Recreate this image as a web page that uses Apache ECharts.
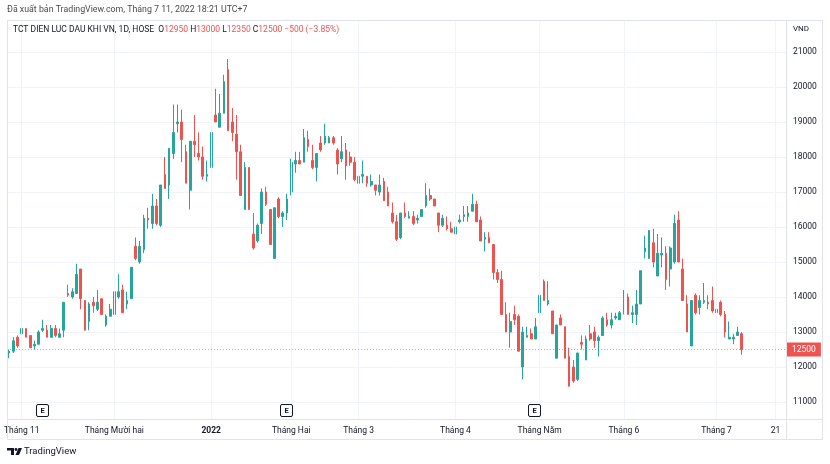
<!DOCTYPE html>
<html>
<head>
    <meta charset="UTF-8">
    <title>TCT DIEN LUC DAU KHI VN, 1D, HOSE</title>
    <script type="text/javascript" src="https://cdn.jsdelivr.net/npm/echarts@6/dist/echarts.min.js"></script>
</head>
<body style="margin: 0;padding: 0;background: #fff;">
    <div id="container" style="width:830px; height:464px;"></div>
    <script>
        // gia (VND) doc tu hinh, moi phien mot nen
        var opens = [
            12400, 12450, 12850, 12950, 13100, 12900, 12600, 12650, 13050, 13050,
            12850, 13100, 12850, 13050, 14100, 14000, 14100, 14800, 13900, 13300,
            13850, 13650, 13950, 13200, 13450, 13500, 14000, 14200, 13800, 13950,
            15450, 15000, 15350, 16250, 16100, 16600, 16050, 17500, 17200, 18100,
            18950, 19000, 18150, 17050, 18450, 18100, 18000, 17450, 17700, 19200,
            18850, 19250, 20500, 19000, 18650, 18150, 16500, 17700, 15800, 15600,
            16100, 17000, 16500, 15100, 16800, 16300, 16400, 17000, 17800, 17900,
            17850, 18500, 17900, 17700, 18400, 18400, 18400, 18550, 18200, 17950,
            18200, 18000, 17850, 17250, 17450, 17450, 17200, 17200, 17000, 17300,
            17000, 16400, 16150, 15700, 16400, 16250, 16300, 16200, 16300, 16600,
            16900, 16800, 16400, 16050, 16050, 15950, 15800, 16150, 16300, 16300,
            16450, 16650, 16200, 15650, 15700, 15500, 14700, 14500, 13500, 13000,
            13500, 13450, 12000, 12850, 12950, 12800, 13550, 14450, 13800, 13600,
            12250, 13400, 13150, 12300, 12000, 11650, 12700, 12200, 12950, 13000,
            12750, 12900, 13350, 13200, 13400, 13350, 13550, 14000, 13500, 13500,
            13800, 15300, 15100, 15550, 14600, 15200, 15250, 14800, 15000, 16200,
            14800, 13800, 12600, 14050, 13700, 13850, 13850, 13900, 13650, 13850,
            13500, 12800, 12800, 12900, 12950
        ];
        var highs = [
            12500, 12850, 12900, 13300, 13100, 12900, 12750, 13050, 13350, 13200,
            13200, 13200, 13100, 13850, 14350, 14250, 14950, 14800, 13900, 13850,
            14000, 14200, 13950, 13500, 13800, 14300, 14650, 14350, 14150, 14850,
            15700, 15600, 16350, 16550, 16950, 16800, 17200, 18000, 18250, 19500,
            19500, 19350, 18350, 18450, 19200, 18700, 18300, 17900, 18700, 19950,
            19800, 20350, 20800, 19400, 19200, 18350, 17850, 17700, 16400, 16100,
            17100, 17150, 16500, 16550, 16850, 16450, 16950, 17950, 18150, 18150,
            18800, 18750, 18350, 18100, 18600, 18950, 18600, 18600, 18250, 18600,
            18400, 18150, 18000, 17500, 17900, 17450, 17500, 17200, 17500, 17400,
            17150, 16700, 16350, 16400, 16700, 16450, 16450, 16350, 16500, 17250,
            17100, 16800, 16400, 16350, 16300, 16150, 16150, 16350, 16600, 16600,
            16950, 16750, 16300, 15850, 15850, 15500, 14800, 14750, 13850, 13550,
            13750, 13500, 13150, 13150, 13100, 13400, 14050, 14500, 14450, 13600,
            13200, 13500, 13150, 12550, 12200, 12400, 12900, 12900, 13200, 13150,
            12900, 13450, 13550, 13550, 13550, 13600, 14200, 14100, 13750, 14200,
            14750, 15750, 15900, 15950, 15800, 15700, 15450, 15450, 16350, 16450,
            15100, 14050, 13900, 14100, 14050, 14400, 14050, 14300, 13750, 13900,
            13600, 13300, 12950, 13150, 13000
        ];
        var lows = [
            12250, 12400, 12550, 12900, 12850, 12550, 12500, 12650, 13000, 12850,
            12850, 12850, 12850, 12850, 14000, 13950, 14100, 13650, 13050, 13050,
            13550, 13600, 13500, 13150, 13450, 13500, 13950, 13550, 13650, 13950,
            15050, 14950, 15250, 15950, 15950, 16050, 16000, 17100, 16800, 17950,
            18700, 17850, 17250, 16500, 18000, 17900, 17350, 17300, 17700, 19000,
            18850, 19250, 18750, 18450, 17350, 16900, 16500, 16500, 15350, 15550,
            15800, 16600, 15500, 15100, 16250, 16000, 16200, 16900, 17550, 17800,
            17850, 18150, 17650, 17300, 18150, 18350, 18400, 18350, 17500, 17850,
            17350, 17750, 17300, 16850, 17250, 17150, 17150, 16900, 16900, 16750,
            16600, 16100, 15600, 15650, 16250, 16250, 16050, 16100, 16300, 16550,
            16750, 16600, 15850, 16000, 15900, 15850, 15700, 16100, 16150, 16150,
            16450, 16150, 15600, 15300, 15550, 14500, 14400, 13500, 13000, 12550,
            13200, 12450, 11650, 12850, 12800, 12800, 13450, 13900, 13750, 12950,
            12250, 13200, 12250, 11450, 11550, 11600, 12500, 12200, 12750, 12550,
            12300, 12900, 13150, 13100, 13350, 13350, 13500, 13500, 13250, 13200,
            13800, 15100, 15100, 14850, 14600, 14850, 14200, 14300, 14950, 15000,
            13900, 13000, 12600, 13500, 13500, 13800, 13650, 13550, 13000, 13450,
            12850, 12800, 12650, 12900, 12350
        ];
        var closes = [
            12450, 12750, 12600, 13100, 12850, 12550, 12650, 13000, 13100, 12850,
            13100, 12900, 12950, 13850, 14050, 14150, 14650, 13950, 13050, 13800,
            13750, 13850, 13500, 13450, 13650, 14150, 14150, 13550, 13900, 14850,
            15100, 15450, 16250, 16200, 16600, 16100, 17200, 17100, 18250, 18700,
            19000, 18500, 17250, 18450, 18350, 18000, 17450, 17500, 18700, 19000,
            19250, 20150, 18750, 18700, 18150, 16900, 17700, 16500, 15400, 16050,
            17000, 16650, 15500, 16550, 16300, 16400, 16800, 17850, 17900, 17800,
            18550, 18300, 17700, 18100, 18200, 18600, 18550, 18400, 17800, 18150,
            17750, 17850, 17350, 17450, 17500, 17250, 17300, 17050, 17200, 16750,
            16600, 16150, 15650, 16400, 16300, 16300, 16100, 16250, 16500, 16900,
            16800, 16600, 16050, 16250, 15950, 15850, 16000, 16200, 16350, 16400,
            16650, 16150, 15600, 15700, 15550, 14700, 14500, 13500, 13000, 13300,
            13350, 12450, 13000, 12900, 12800, 13150, 14050, 13900, 13900, 12950,
            13200, 13200, 12250, 11450, 11600, 12400, 12650, 12800, 12800, 12750,
            12850, 13400, 13200, 13350, 13450, 13550, 13950, 13500, 13550, 13800,
            14750, 15400, 15900, 15000, 15250, 15250, 14500, 15400, 16100, 15000,
            13900, 13000, 13900, 13550, 13900, 13900, 13800, 13600, 13550, 13500,
            13000, 12850, 12850, 13000, 12500
        ];

        // ngay nghi cua HOSE trong khoang nay
        var holidays = ['2022-01-03', '2022-01-31', '2022-02-01', '2022-02-02', '2022-02-03',
            '2022-02-04', '2022-04-11', '2022-05-02', '2022-05-03'];
        var firstDay = '2021-10-27';
        var emptyDays = 10;   // khoang trong ben phai

        var timeLabels = {
            '2021-11-01': 'Tháng 11',
            '2021-12-01': 'Tháng Mười hai',
            '2022-01-04': '{b|2022}',
            '2022-02-07': 'Tháng Hai',
            '2022-03-01': 'Tháng 3',
            '2022-04-01': 'Tháng 4',
            '2022-05-04': 'Tháng Năm',
            '2022-06-01': 'Tháng 6',
            '2022-07-01': 'Tháng 7',
            '2022-07-21': '21'
        };
        var earningsDays = ['2021-11-08', '2022-01-28', '2022-04-29'];
        var lastPrice = 12500;
        var priceMin = 10514, priceMax = 21914;

        var FONT = 'Roboto, "Liberation Sans", sans-serif';
        var UP = '#26a69a', DOWN = '#ef5350', TEXT = '#131722', GRID = '#f0f3fa', BORDER = '#e0e3eb';

        function tradingDays(start, count) {
            var out = [];
            var d = new Date(start + 'T00:00:00Z');
            while (out.length < count) {
                var s = d.toISOString().slice(0, 10);
                var w = d.getUTCDay();
                if (w !== 0 && w !== 6 && holidays.indexOf(s) < 0) out.push(s);
                d.setUTCDate(d.getUTCDate() + 1);
            }
            return out;
        }

        var dates = tradingDays(firstDay, opens.length + emptyDays);
        var candles = opens.map(function (o, i) {
            return [o, closes[i], lows[i], highs[i]];
        });

        var chart = echarts.init(document.getElementById('container'), null, { renderer: 'canvas' });

        var option = {
            animation: false,
            backgroundColor: '#fff',
            grid: { left: 7, right: 44, top: 20, bottom: 45 },
            xAxis: {
                type: 'category',
                data: dates,
                boundaryGap: true,
                axisLine: { show: false },
                axisTick: { show: false },
                splitLine: { show: false },
                axisLabel: {
                    interval: function (idx, val) { return timeLabels[val] !== undefined; },
                    formatter: function (val) { return timeLabels[val] || ''; },
                    color: TEXT,
                    fontFamily: FONT,
                    fontSize: 8.5,
                    margin: 7,
                    rich: { b: { fontWeight: 'bold', fontSize: 8.5, fontFamily: FONT, color: TEXT } }
                }
            },
            yAxis: {
                type: 'value',
                position: 'right',
                min: priceMin,
                max: priceMax,
                splitNumber: 11,
                axisLine: { show: false },
                axisTick: { show: false },
                axisLabel: {
                    showMinLabel: false,
                    showMaxLabel: false,
                    formatter: function (v) { return v % 1000 === 0 ? String(v) : ''; },
                    color: TEXT,
                    fontFamily: FONT,
                    fontSize: 8.5,
                    margin: 7
                },
                splitLine: { lineStyle: { color: GRID, width: 1 } }
            },
            series: [
                {
                    // duong luoi doc dau thang
                    type: 'line',
                    data: [],
                    z: 1,
                    silent: true,
                    markLine: {
                        silent: true,
                        symbol: ['none', 'none'],
                        label: { show: false },
                        lineStyle: { color: GRID, type: 'solid', width: 1 },
                        data: Object.keys(timeLabels).map(function (d) { return { xAxis: d }; })
                    }
                },
                {
                    name: 'GAS',
                    type: 'candlestick',
                    data: candles,
                    z: 3,
                    barWidth: 2.2,
                    itemStyle: {
                        color: UP,
                        color0: DOWN,
                        borderColor: UP,
                        borderColor0: DOWN,
                        borderWidth: 1
                    },
                    markLine: {
                        silent: true,
                        symbol: ['none', 'none'],
                        lineStyle: { color: 'rgba(239,83,80,0.6)', type: [1, 2], width: 1 },
                        label: {
                            show: true,
                            position: 'end',
                            distance: 1,
                            formatter: String(lastPrice),
                            backgroundColor: DOWN,
                            color: '#fff',
                            fontFamily: FONT,
                            fontSize: 8.5,
                            padding: [3, 5, 2, 5]
                        },
                        data: [{ yAxis: lastPrice }]
                    }
                }
            ]
        };
        chart.setOption(option);

        // khung, tieu de, logo, cac dau E
        var graphics = [
            { type: 'rect', silent: true, z: 10, shape: { x: 7.5, y: 20.5, width: 815, height: 419 },
              style: { fill: 'none', stroke: BORDER, lineWidth: 1 } },
            { type: 'line', silent: true, z: 10, shape: { x1: 786.5, y1: 20, x2: 786.5, y2: 440 },
              style: { stroke: BORDER, lineWidth: 1 } },
            { type: 'line', silent: true, z: 10, shape: { x1: 7, y1: 419.5, x2: 822, y2: 419.5 },
              style: { stroke: BORDER, lineWidth: 1 } },
            { type: 'text', silent: true, z: 10, x: 7, y: 10,
              style: { text: 'Đã xuất bản TradingView.com, Tháng 7 11, 2022 18:21 UTC+7', fill: '#4a4a4a',
                       font: '8.8px ' + FONT, verticalAlign: 'middle' } },
            { type: 'text', silent: true, z: 10, x: 13, y: 30,
              style: {
                  text: 'TCT DIEN LUC DAU KHI VN, 1D, HOSE  O{r|12950} H{r|13000} L{r|12350} C{r|12500} {r|−500 (−3.85%)}',
                  fill: TEXT, font: '8.5px ' + FONT, verticalAlign: 'middle',
                  rich: { r: { fill: DOWN, fontSize: 8.5, fontFamily: FONT } }
              } },
            { type: 'text', silent: true, z: 10, x: 793, y: 29,
              style: { text: 'VND', fill: TEXT, font: '8px ' + FONT, verticalAlign: 'middle' } },
            // logo TradingView
            { type: 'polygon', silent: true, z: 10,
              shape: { points: [[7, 448], [14, 448], [14, 455], [11, 455], [11, 450.5], [7, 450.5]] },
              style: { fill: TEXT } },
            { type: 'circle', silent: true, z: 10, shape: { cx: 16, cy: 449.5, r: 1.4 }, style: { fill: TEXT } },
            { type: 'polygon', silent: true, z: 10,
              shape: { points: [[18.5, 448], [22, 448], [19, 455], [15.5, 455]] },
              style: { fill: TEXT } },
            { type: 'text', silent: true, z: 10, x: 24, y: 451.5,
              style: { text: 'TradingView', fill: TEXT, font: '9.5px ' + FONT, verticalAlign: 'middle' } }
        ];
        earningsDays.forEach(function (d) {
            var px = chart.convertToPixel({ xAxisIndex: 0 }, d);
            graphics.push({ type: 'rect', silent: true, z: 10,
                shape: { x: Math.round(px) - 6.5, y: 404.5, width: 12, height: 12, r: 1.5 },
                style: { fill: '#fff', stroke: TEXT, lineWidth: 1 } });
            graphics.push({ type: 'text', silent: true, z: 11, x: Math.round(px) - 0.5, y: 411,
                style: { text: 'E', fill: TEXT, font: 'bold 7.5px ' + FONT, align: 'center', verticalAlign: 'middle' } });
        });
        chart.setOption({ graphic: graphics });
    </script>
</body>
</html>
